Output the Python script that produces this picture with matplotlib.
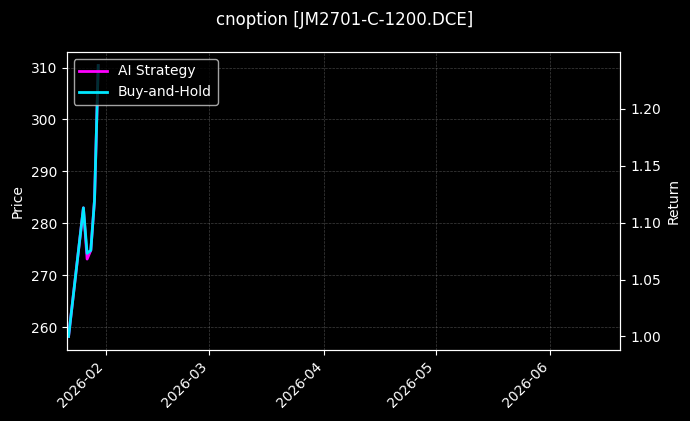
import matplotlib
matplotlib.use("Agg")
import matplotlib.pyplot as plt
import matplotlib.dates as mdates
import numpy as np
import pandas as pd

title = "cnoption [JM2701-C-1200.DCE]"
dates = pd.to_datetime(["2026-01-22", "2026-01-26", "2026-01-27", "2026-01-28",
                        "2026-01-29", "2026-01-30"])
ai_strategy = [1.000, 1.113, 1.068, 1.0757, 1.120, 1.238]
buy_hold = [1.000, 1.113, 1.073, 1.0757, 1.120, 1.238]
price_limits = (255.6, 313.0)
x_limits = (pd.Timestamp("2026-01-21 12:00"), pd.Timestamp("2026-06-19 20:00"))

plt.style.use("dark_background")
fig = plt.figure(figsize=(6.9, 4.21), dpi=100)
ax = fig.add_axes([0.0967, 0.1686, 0.8023, 0.7079])
ax2 = ax.twinx()

ax.set_ylim(*price_limits)
ax.set_ylabel("Price")
ax.grid(True, color="gray", linestyle="--", linewidth=0.5, alpha=0.5)

l1, = ax2.plot(dates, ai_strategy, color="#ff00ff", linewidth=2, label="AI Strategy")
l2, = ax2.plot(dates, buy_hold, color="#00e8ff", linewidth=2, label="Buy-and-Hold")
ax2.set_ylabel("Return")

ax.set_xlim(*x_limits)
ax.xaxis.set_major_locator(mdates.MonthLocator())
ax.xaxis.set_major_formatter(mdates.DateFormatter("%Y-%m"))
for lab in ax.get_xticklabels():
    lab.set_rotation(45)
    lab.set_ha("right")

ax2.legend(handles=[l1, l2], loc="upper left", facecolor="black", edgecolor="#cccccc")
fig.suptitle(title, fontsize=12, y=0.975)
fig.savefig("out.png", dpi=100)
